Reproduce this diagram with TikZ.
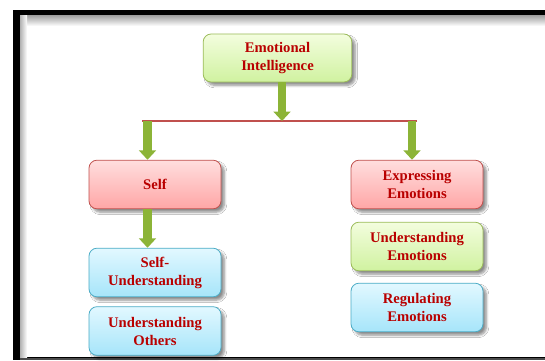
\documentclass[tikz,border=0pt]{standalone}
\usepackage{fontspec}
\setmainfont{Liberation Serif}
\usepackage{tikz}
\usetikzlibrary{positioning,arrows.meta,shadows.blur}

\definecolor{txtred}{RGB}{185,0,0}
\definecolor{pinkborder}{RGB}{192,80,77}
\definecolor{greenborder}{RGB}{155,187,89}
\definecolor{blueborder}{RGB}{75,172,198}
\definecolor{arrowgreen}{RGB}{140,180,55}

\tikzset{%
	box/.style={rounded corners=6pt, draw, line width=0.6pt, align=center,
		minimum width=99pt, minimum height=36.5pt, inner sep=2pt,
		text=txtred, font=\bfseries\fontsize{11}{13.5}\selectfont,
		blur shadow={shadow xshift=2.5pt, shadow yshift=-2.5pt, shadow blur steps=6, shadow opacity=45}},
	pinkbox/.style={box, draw=pinkborder, top color={rgb,255:red,255;green,222;blue,222}, bottom color={rgb,255:red,255;green,166;blue,166}},
	greenbox/.style={box, draw=greenborder, top color={rgb,255:red,243;green,253;blue,222}, bottom color={rgb,255:red,208;green,242;blue,160}},
	bluebox/.style={box, draw=blueborder, top color={rgb,255:red,226;green,248;blue,255}, bottom color={rgb,255:red,166;green,229;blue,250}},
	greenarrow/.style={draw=arrowgreen, line width=6.5pt, -{Triangle[width=12.5pt, length=7pt]}},
	redline/.style={draw=pinkborder, line width=1.6pt}
}

\begin{document}
\begin{tikzpicture}[x=0.75pt, y=-0.75pt]
	\useasboundingbox (0,0) rectangle (545,360);

	% frame
	\fill[black] (13,10) rectangle (545,360);
	\fill[white] (20,16) rectangle (545,357);
	\shade[top color=black!35, bottom color=white] (20,16) rectangle (545,26);
	\shade[left color=black!30, right color=white] (20,16) rectangle (27,357);
	\fill[black!70] (20,357.5) rectangle (545,360);

	\node[greenbox, minimum width=111.5pt, minimum height=36pt] (EI) at (277.5,58) {Emotional\\Intelligence};

	\node[pinkbox] (Self) at (155,184.5) {Self};
	\node[bluebox] (SelfU) at (155,272.5) {Self-\\Understanding};
	\node[bluebox] (Others) at (155,331) {Understanding\\Others};

	\node[pinkbox] (Expr) at (417,184.5) {Expressing\\Emotions};
	\node[greenbox] (UndE) at (417,246.5) {Understanding\\Emotions};
	\node[bluebox] (Regul) at (417,307.5) {Regulating\\Emotions};

	\coordinate (barM) at (282,121);
	\coordinate (barL) at (147.5,121);
	\coordinate (barR) at (412,121);
	\coordinate (lineL) at (142,121);
	\coordinate (lineR) at (417,121);

	\draw[redline] (lineL) -- (lineR);
	\draw[greenarrow] (EI.south -| barM) -- (barM);
	\draw[greenarrow] (barL) -- (barL |- Self.north);
	\draw[greenarrow] (barR) -- (barR |- Expr.north);
	\draw[greenarrow] (Self.south -| barL) -- (barL |- SelfU.north);
\end{tikzpicture}
\end{document}
